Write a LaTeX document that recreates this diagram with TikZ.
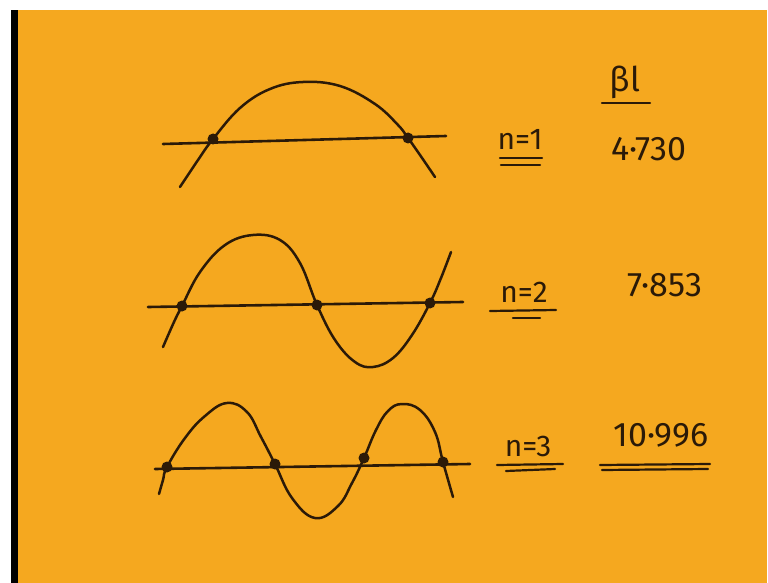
\documentclass[tikz,border=0pt]{standalone}
\usepackage{fontspec}
\setmainfont{Fira Sans}
\definecolor{board}{HTML}{F5A81F}
\definecolor{ink}{HTML}{2B1A08}
\tikzset{
  wave/.style={draw=ink, line width=2.5pt, line cap=round, line join=round},
  axisline/.style={draw=ink, line width=2.6pt, line cap=round},
  node dot/.style={circle, fill=ink, inner sep=0pt, minimum size=11pt},
  lbl/.style={text=ink, inner sep=0pt, font=\fontsize{30}{34}\selectfont},
  val/.style={text=ink, inner sep=0pt, font=\fontsize{34}{38}\selectfont},
  uline/.style={draw=ink, line width=2.2pt, line cap=round}
}
\begin{document}
\begin{tikzpicture}[x=1pt,y=-1pt]
\useasboundingbox (0,0) rectangle (768,583);
\fill[white] (0,0) rectangle (768,583);
\fill[board] (18,10) rectangle (767,583);
\fill[black] (11,10) rectangle (18,583);

% ---- mode 1 ----
\coordinate (a1l) at (163,144);
\coordinate (a1r) at (446,136);
\draw[axisline] (a1l) -- (a1r);
\draw[wave] plot[smooth, tension=0.65] coordinates {(180,187) (198,160) (213,139) (240,108) (270,89) (303,82) (340,86) (375,104) (398,125) (408,138) (420,155) (435,177)};
\node[node dot] (d11) at (213,139) {};
\node[node dot] (d12) at (408,138) {};

% ---- mode 2 ----
\coordinate (a2l) at (148,307);
\coordinate (a2r) at (463,302);
\draw[axisline] (a2l) -- (a2r);
\draw[wave] plot[smooth, tension=0.65] coordinates {(163,347) (174,322) (182,306) (200,272) (225,245) (253,235) (280,240) (300,263) (317,305) (335,340) (355,362) (373,367) (393,358) (412,335) (430,303) (441,278) (451,252)};
\node[node dot] (d21) at (182,306) {};
\node[node dot] (d22) at (317,305) {};
\node[node dot] (d23) at (430,303) {};

% ---- mode 3 ----
\coordinate (a3l) at (155,469);
\coordinate (a3r) at (470,464);
\draw[axisline] (a3l) -- (a3r);
\draw[wave] plot[smooth, tension=0.7] coordinates {(159,494) (163,480) (167,467) (185,438) (205,416) (227,403) (247,412) (261,437) (275,464) (292,498) (315,518) (338,506) (352,483) (364,458) (376,430) (388,411) (402,404) (420,410) (435,432) (443,462) (453,497)};
\node[node dot] (d31) at (167,467) {};
\node[node dot] (d32) at (275,464) {};
\node[node dot] (d33) at (364,458) {};
\node[node dot] (d34) at (443,462) {};

% ---- labels ----
\node[val] (bl) at (625,82) {βl};
\draw[uline] (602,103) -- (650,103);

\node[lbl] (n1) at (520,139) {n=1};
\draw[uline] (500,158) -- (542,158);
\draw[uline] (501,165) -- (540,165);
\node[val] (v1) at (649,149) {4·730};

\node[lbl] (n2) at (524,292) {n=2};
\draw[uline] (490,311) -- (556,310);
\draw[uline] (513,318) -- (540,318);
\node[val] (v2) at (665,285) {7·853};

\node[lbl] (n3) at (528,446) {n=3};
\draw[uline] (497,465) -- (563,464);
\draw[uline] (506,471) -- (555,469);
\node[val] (v3) at (661,435) {10·996};
\draw[uline] (600,465) -- (710,464);
\draw[uline] (602,470) -- (708,469);
\end{tikzpicture}
\end{document}
